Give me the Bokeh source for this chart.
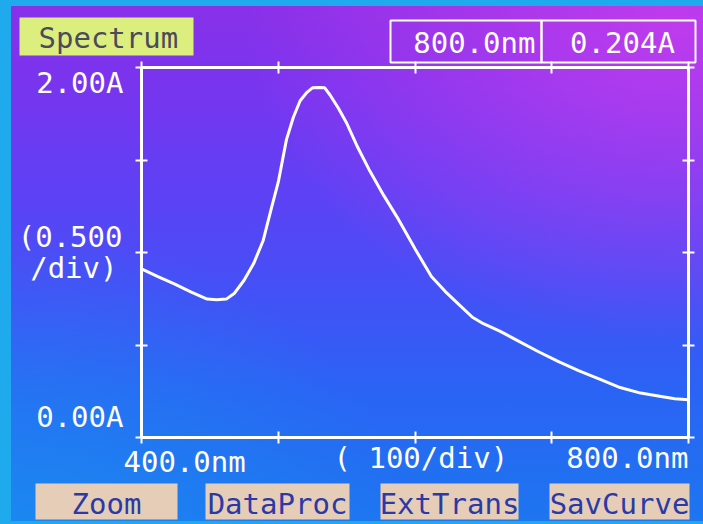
from bokeh.plotting import figure
from bokeh.models import LinearAxis, FixedTicker, Range1d, Label, BoxAnnotation
from bokeh.embed import file_html
from bokeh.resources import INLINE

# ---- data ----
wavelength_nm = [400, 412, 424, 436, 448, 455, 462, 468, 475, 482, 489, 495, 500,
                 506, 511, 516, 521, 525, 530, 534, 538, 544, 550, 558, 567, 577,
                 587, 600, 612, 622, 632, 642, 650, 662, 675, 690, 705, 720, 735,
                 750, 765, 780, 790, 800]
absorbance = [0.912, 0.87, 0.83, 0.787, 0.748, 0.744, 0.748, 0.78, 0.85, 0.94,
              1.065, 1.24, 1.38, 1.61, 1.73, 1.82, 1.866, 1.89, 1.892, 1.89, 1.85,
              1.78, 1.70, 1.57, 1.44, 1.31, 1.19, 1.02, 0.87, 0.79, 0.72, 0.65,
              0.615, 0.575, 0.524, 0.465, 0.41, 0.36, 0.315, 0.27, 0.24, 0.222,
              0.21, 0.204]
x_ticks = [400, 500, 600, 700, 800]
y_ticks = [0.0, 0.5, 1.0, 1.5, 2.0]
x_min, x_max = 400, 800
y_min, y_max = 0.0, 2.0
title_text = "Spectrum"
cursor_wl = "800.0nm"
cursor_abs = "0.204A"
y_top_label = "2.00A"
y_div_label = ["(0.500", "/div)"]
y_bottom_label = "0.00A"
x_left_label = "400.0nm"
x_div_label = "( 100/div)"
x_right_label = "800.0nm"
buttons = ["Zoom", "DataProc", "ExtTrans", "SavCurve"]

# ---- layout constants (canvas pixels) ----
W, H = 703, 524
FL, FR, FT, FB = 141, 688, 67, 437      # where the plotting box sits on the screen
FONT = "DejaVu Sans Mono"
BASE_SHIFT = 11                          # Bokeh's label baseline offset (measured)

# the frame covers the whole canvas; ranges are widened so that the data box
# (400..800 nm, 0..2 A) lands on the screen box FL..FR, FT..FB
sx = (FR - FL) / (x_max - x_min)
sy = (FB - FT) / (y_max - y_min)
xr = Range1d(x_min - FL / sx, x_max + (W - FR) / sx)
yr = Range1d(y_min - (H - FB) / sy, y_max + FT / sy)

bg = ("radial-gradient(ellipse at 96% 4%, rgba(205,62,238,0.80) 0%, rgba(205,62,238,0) 45%), "
      "radial-gradient(ellipse at 0% 100%, rgba(25,150,240,0.55) 0%, rgba(25,150,240,0) 40%), "
      "linear-gradient(180deg, #8a30e8 0%, #7a34ee 15%, #6040f4 35%, #4450f6 55%, #2a64f4 75%, #1d76f0 100%)")

p = figure(width=W, height=H, x_range=xr, y_range=yr,
           output_backend="svg", toolbar_location=None,
           x_axis_location=None, y_axis_location=None,
           min_border=0,
           styles={"background": bg,
                   "box-shadow": "inset 11px 6px 0 0 #1eaaec, inset 0 -3px 0 0 #1eaaec"})
p.border_fill_alpha = 0
p.background_fill_alpha = 0
p.outline_line_color = None
p.grid.visible = False

axes_spec = [("below", x_ticks, y_min, (x_min, x_max)),
             ("above", x_ticks, y_max, (x_min, x_max)),
             ("left", y_ticks, x_min, (y_min, y_max)),
             ("right", y_ticks, x_max, (y_min, y_max))]
for loc, ticks, fixed, bnds in axes_spec:
    ax = LinearAxis(ticker=FixedTicker(ticks=ticks, minor_ticks=[]),
                    fixed_location=fixed, bounds=bnds,
                    axis_line_color="white", axis_line_width=3,
                    major_tick_line_color="white", major_tick_line_width=2,
                    major_tick_in=6, major_tick_out=6,
                    minor_tick_line_color=None,
                    major_label_overrides={t: "" for t in ticks})
    p.add_layout(ax, loc)

p.line(wavelength_nm, absorbance, line_color="white", line_width=3)


def box(x0, y0, x1, y1, fill, line=None, lw=2):
    p.add_layout(BoxAnnotation(left=x0, right=x1, top=H - y0, bottom=H - y1,
                               left_units="screen", right_units="screen",
                               top_units="screen", bottom_units="screen",
                               fill_color=fill, fill_alpha=1 if fill else 0,
                               line_color=line, line_width=lw, line_alpha=1 if line else 0))


def lab(text, cx, cy, align, color="white", size="29px"):
    p.add_layout(Label(x=cx, y=H - cy + BASE_SHIFT, x_units="screen", y_units="screen",
                       text=text, text_align=align, text_baseline="alphabetic",
                       text_font=FONT, text_font_size=size, text_color=color))


# header
box(19, 17, 193, 55, "#dcef7e")
lab(title_text, 38, 48, "left", color="#4c4a5c")
box(390, 20, 541, 62, None, "white", 2)
box(541, 20, 695, 62, None, "white", 2)
lab(cursor_wl, 535, 53, "right")
lab(cursor_abs, 622, 53, "center")

# y labels
lab(y_top_label, 123, 93, "right")
lab(y_div_label[0], 122, 247, "right")
lab(y_div_label[1], 117, 278, "right")
lab(y_bottom_label, 123, 427, "right")

# x labels
lab(x_left_label, 123, 472, "left")
lab(x_div_label, 333, 468, "left")
lab(x_right_label, 688, 468, "right")

# buttons
btn_boxes = [(35, 177), (205, 349), (380, 518), (549, 689)]
for name, (x0, x1) in zip(buttons, btn_boxes):
    box(x0, 483, x1, 519, "#e6cdb8")
    lab(name, (x0 + x1) / 2, 514, "center", color="#2a3aa6")

open("out.html", "w").write(file_html(p, INLINE))
